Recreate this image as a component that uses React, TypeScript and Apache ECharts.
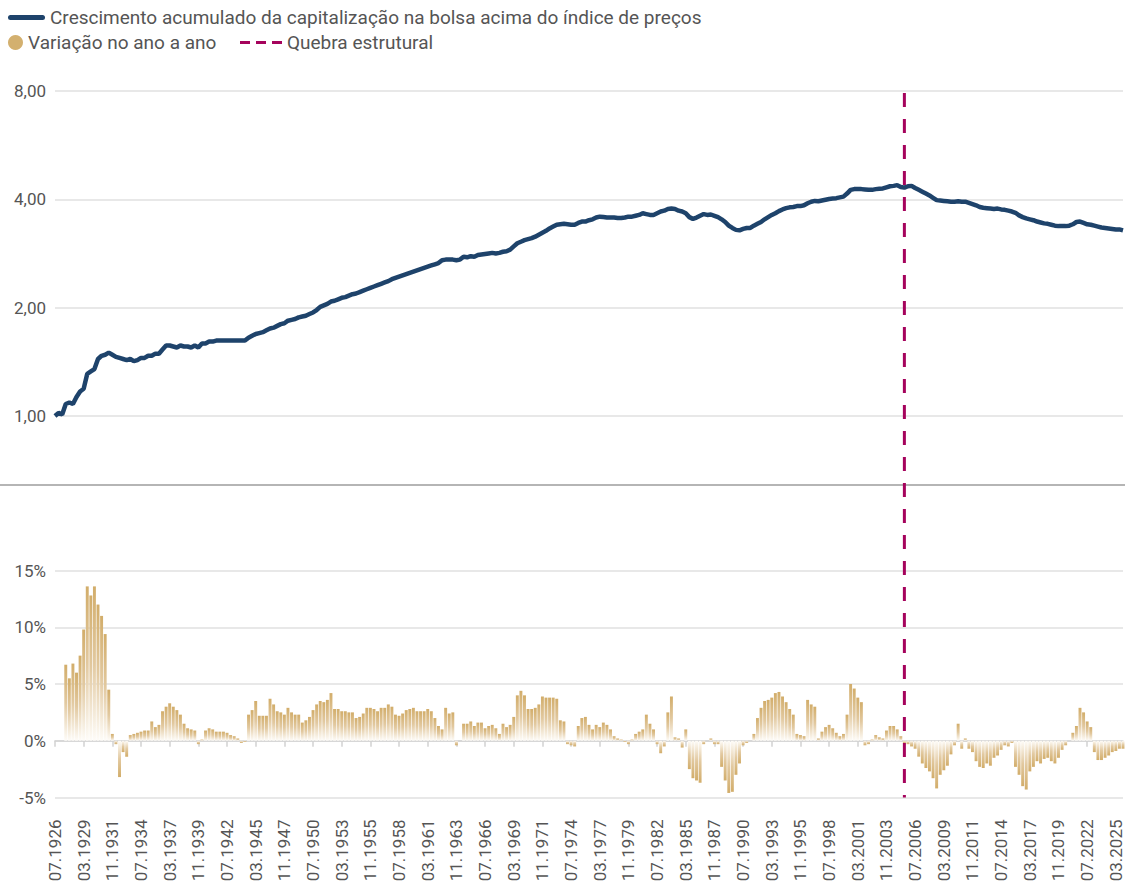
import React, { useEffect, useRef } from 'react';
import * as echarts from 'echarts';

// ---- data (4-month steps from 07.1926) ----
const startYear = 1926;
const startMonth = 7;
const stepMonths = 4;

const lineValues: number[] = [
  1.00, 1.02, 1.01, 1.08, 1.09, 1.08, 1.13, 1.17, 1.19, 1.31,
  1.33, 1.35, 1.44, 1.47, 1.48, 1.50, 1.48, 1.46, 1.45, 1.44,
  1.43, 1.44, 1.42, 1.43, 1.45, 1.45, 1.47, 1.47, 1.49, 1.49,
  1.53, 1.57, 1.57, 1.56, 1.55, 1.57, 1.56, 1.56, 1.55, 1.57,
  1.55, 1.59, 1.59, 1.61, 1.61, 1.62, 1.62, 1.62, 1.62, 1.62,
  1.62, 1.62, 1.62, 1.62, 1.65, 1.67, 1.69, 1.70, 1.71, 1.73,
  1.75, 1.76, 1.78, 1.80, 1.81, 1.84, 1.85, 1.86, 1.88, 1.89,
  1.90, 1.92, 1.94, 1.97, 2.01, 2.03, 2.05, 2.08, 2.09, 2.11,
  2.13, 2.14, 2.16, 2.18, 2.19, 2.21, 2.23, 2.25, 2.27, 2.29,
  2.31, 2.33, 2.35, 2.37, 2.40, 2.42, 2.44, 2.46, 2.48, 2.50,
  2.52, 2.54, 2.56, 2.58, 2.60, 2.62, 2.64, 2.66, 2.71, 2.72,
  2.72, 2.72, 2.71, 2.72, 2.77, 2.76, 2.78, 2.77, 2.80, 2.81,
  2.82, 2.83, 2.84, 2.83, 2.84, 2.86, 2.87, 2.90, 2.96, 3.02,
  3.05, 3.08, 3.10, 3.12, 3.15, 3.19, 3.23, 3.27, 3.32, 3.36,
  3.40, 3.41, 3.42, 3.41, 3.40, 3.40, 3.44, 3.47, 3.47, 3.50,
  3.52, 3.56, 3.58, 3.57, 3.56, 3.56, 3.56, 3.55, 3.55, 3.56,
  3.58, 3.58, 3.60, 3.62, 3.66, 3.64, 3.62, 3.62, 3.66, 3.70,
  3.72, 3.76, 3.77, 3.76, 3.72, 3.70, 3.66, 3.57, 3.53, 3.56,
  3.60, 3.64, 3.62, 3.63, 3.60, 3.57, 3.52, 3.46, 3.38, 3.33,
  3.29, 3.28, 3.31, 3.33, 3.33, 3.38, 3.42, 3.46, 3.52, 3.57,
  3.62, 3.66, 3.71, 3.75, 3.78, 3.80, 3.81, 3.83, 3.83, 3.85,
  3.90, 3.94, 3.96, 3.95, 3.97, 3.99, 4.01, 4.02, 4.03, 4.05,
  4.07, 4.15, 4.25, 4.27, 4.27, 4.27, 4.26, 4.25, 4.25, 4.27,
  4.28, 4.29, 4.32, 4.35, 4.36, 4.38, 4.33, 4.31, 4.35, 4.36,
  4.30, 4.25, 4.20, 4.15, 4.10, 4.04, 3.98, 3.97, 3.96, 3.95,
  3.94, 3.94, 3.95, 3.94, 3.94, 3.91, 3.88, 3.85, 3.81, 3.79,
  3.78, 3.77, 3.76, 3.77, 3.75, 3.74, 3.72, 3.70, 3.67, 3.61,
  3.57, 3.54, 3.52, 3.50, 3.47, 3.45, 3.43, 3.42, 3.40, 3.38,
  3.37, 3.37, 3.37, 3.38, 3.41, 3.46, 3.47, 3.44, 3.41, 3.40,
  3.38, 3.36, 3.34, 3.33, 3.32, 3.31, 3.30, 3.30, 3.28,
];

const yoyValues: (number | null)[] = [
  null, null, null, 6.7, 5.5, 6.8, 6.0, 7.5, 9.8, 13.6,
  12.8, 13.6, 12.0, 11.0, 9.4, 4.5, 0.6, -0.3, -3.2, -1.0,
  -1.4, 0.5, 0.6, 0.7, 0.8, 0.9, 0.9, 1.7, 1.2, 1.4,
  2.6, 3.0, 3.3, 3.0, 2.7, 2.3, 1.5, 1.1, 1.0, 0.9,
  -0.3, 0.1, 0.9, 1.1, 1.0, 0.8, 0.8, 0.8, 0.7, 0.5,
  0.4, 0.2, -0.2, -0.1, 2.3, 2.7, 3.5, 2.2, 2.2, 2.2,
  3.7, 3.2, 2.6, 2.5, 2.3, 2.9, 2.5, 2.3, 2.3, 1.6,
  1.8, 2.1, 2.7, 3.2, 3.5, 3.4, 3.6, 4.2, 2.8, 2.8,
  2.6, 2.6, 2.5, 2.5, 2.0, 2.1, 2.4, 2.9, 2.9, 2.8,
  2.6, 2.9, 2.9, 3.2, 3.0, 2.3, 2.2, 2.4, 2.7, 2.8,
  2.9, 2.6, 2.6, 2.6, 2.8, 2.6, 2.0, 1.3, 1.0, 2.9,
  2.4, 2.5, -0.4, 0.0, 1.5, 1.5, 1.7, 1.3, 1.6, 1.6,
  1.1, 1.3, 1.4, 1.1, 0.6, 1.5, 1.2, 1.4, 2.1, 4.0,
  4.4, 4.0, 2.8, 2.8, 2.9, 3.2, 3.9, 3.8, 3.8, 3.8,
  3.7, 1.8, 1.7, -0.3, -0.4, -0.5, 1.3, 2.0, 2.1, 1.4,
  1.0, 1.4, 1.2, 1.6, 1.4, 1.0, 0.4, 0.2, 0.1, -0.1,
  -0.3, 0.1, 0.6, 0.8, 1.0, 2.3, 1.5, 1.0, -0.3, -1.1,
  -0.5, 2.5, 3.9, 0.3, 0.2, -0.6, 1.0, -2.5, -3.3, -3.5,
  -3.7, -0.3, 0.0, 0.2, -0.3, -0.3, -2.3, -3.5, -4.6, -4.5,
  -3.0, -2.0, -0.4, -0.2, 0.0, 0.6, 2.0, 2.9, 3.5, 3.6,
  3.8, 4.2, 4.3, 3.9, 3.4, 2.8, 2.3, 0.6, 0.5, 0.4,
  3.6, 3.2, 3.0, 0.2, 0.8, 1.2, 1.4, 1.1, 0.7, 0.4,
  0.6, 2.3, 5.0, 4.6, 3.8, 3.4, -0.4, -0.3, 0.1, 0.5,
  0.3, 0.2, 0.9, 1.3, 1.3, 1.0, 0.4, -0.2, -0.3, -0.5,
  -0.7, -1.4, -2.0, -2.4, -2.7, -3.3, -4.2, -3.0, -2.6, -2.2,
  -1.2, -0.4, 1.5, -0.7, 0.2, -0.7, -1.0, -1.8, -2.3, -2.4,
  -2.0, -2.2, -1.5, -1.3, -0.8, -0.4, -0.5, -0.2, -2.3, -3.0,
  -4.0, -4.3, -2.7, -2.3, -1.8, -2.0, -1.6, -1.5, -1.8, -2.0,
  -1.5, -0.8, -0.4, 0.0, 0.7, 1.3, 2.9, 2.5, 1.7, 1.2,
  -1.0, -1.7, -1.7, -1.5, -1.3, -1.0, -0.9, -0.7, -0.7,
];

const categories: string[] = lineValues.map((_, i) => {
  const m = startMonth - 1 + i * stepMonths;
  const mm = (m % 12) + 1;
  const yy = startYear + Math.floor(m / 12);
  return `${String(mm).padStart(2, '0')}.${yy}`;
});

const breakLabel = '07.2005';
const topAxisMin = 1;
const topAxisMax = 8;
const bottomAxisMin = -5;
const bottomAxisMax = 15;
const bottomAxisStep = 5;

const nameLine = 'Crescimento acumulado da capitalização na bolsa acima do índice de preços';
const nameBar = 'Variação no ano a ano';
const nameBreak = 'Quebra estrutural';

const NAVY = '#1e436b';
const GOLD = '#d3b06f';
const MAGENTA = '#a5035c';
const TEXT = '#555555';
const GRIDC = '#e0e0e0';

const ICON_LINE = 'path://M2.5,0H34.5A2.5,2.5,0,0,1,34.5,5H2.5A2.5,2.5,0,0,1,2.5,0Z';
const ICON_DASH = 'path://M0,0H10V3H0Z M16,0H26V3H16Z M32,0H42V3H32Z';

export default function App() {
  const ref = useRef<HTMLDivElement | null>(null);

  useEffect(() => {
    if (!ref.current) return;
    const chart = echarts.init(ref.current, undefined, { renderer: 'svg' });

    const posGrad = new echarts.graphic.LinearGradient(0, 0, 0, 1, [
      { offset: 0, color: '#d2ad6a' },
      { offset: 0.5, color: '#e2c9a0' },
      { offset: 1, color: '#fefcf8' },
    ]);
    const negGrad = new echarts.graphic.LinearGradient(0, 0, 0, 1, [
      { offset: 0, color: '#fefcf8' },
      { offset: 0.5, color: '#e2c9a0' },
      { offset: 1, color: '#d2ad6a' },
    ]);

    const barData = yoyValues.map((v) =>
      v == null ? null : { value: v, itemStyle: { color: v >= 0 ? posGrad : negGrad } }
    );

    const labelStyle = { color: TEXT, fontSize: 17, fontFamily: 'Roboto' };
    const legendText = { color: TEXT, fontSize: 19, fontFamily: 'Roboto' };

    chart.setOption({
      animation: false,
      textStyle: { fontFamily: 'Roboto' },
      legend: [
        {
          data: [{ name: nameLine, icon: ICON_LINE, itemStyle: { color: NAVY, borderWidth: 0 } }],
          left: 8,
          top: 8,
          padding: 0,
          itemWidth: 37,
          itemHeight: 5,
          selectedMode: false,
          textStyle: legendText,
        },
        {
          data: [{ name: nameBar, icon: 'circle', itemStyle: { color: GOLD, borderWidth: 0 } }],
          left: 8,
          top: 33,
          padding: 0,
          itemWidth: 15,
          itemHeight: 15,
          selectedMode: false,
          textStyle: legendText,
        },
        {
          data: [{ name: nameBreak, icon: ICON_DASH, itemStyle: { color: MAGENTA, borderWidth: 0 } }],
          left: 240,
          top: 33,
          padding: 0,
          itemWidth: 42,
          itemHeight: 3,
          selectedMode: false,
          textStyle: legendText,
        },
      ],
      grid: [
        { left: 55, right: 13, top: 91, height: 325 },
        { left: 55, right: 13, top: 570.5, height: 227 },
      ],
      xAxis: [
        {
          gridIndex: 0,
          type: 'category',
          data: categories,
          boundaryGap: false,
          show: false,
        },
        {
          gridIndex: 1,
          type: 'category',
          data: categories,
          boundaryGap: false,
          position: 'bottom',
          axisLine: { show: false, onZero: false },
          axisTick: { show: false },
          axisLabel: { ...labelStyle, interval: 7, rotate: 90, margin: 22 },
          splitLine: { show: false },
        },
        {
          gridIndex: 1,
          type: 'category',
          data: categories,
          boundaryGap: false,
          position: 'bottom',
          axisLine: { show: true, onZero: true, lineStyle: { color: '#d2d2d2', width: 1.5 } },
          axisTick: { show: true, interval: 7, length: 6, lineStyle: { color: '#d2d2d2', width: 1.5 } },
          axisLabel: { show: false },
          splitLine: { show: false },
        },
      ],
      yAxis: [
        {
          gridIndex: 0,
          type: 'log',
          logBase: 2,
          min: topAxisMin,
          max: topAxisMax,
          axisLine: { show: false },
          axisTick: { show: false },
          axisLabel: {
            ...labelStyle,
            margin: 9,
            formatter: (v: number) => v.toFixed(2).replace('.', ','),
          },
          splitLine: { lineStyle: { color: GRIDC, width: 1.5 } },
        },
        {
          gridIndex: 1,
          type: 'value',
          min: bottomAxisMin,
          max: bottomAxisMax,
          interval: bottomAxisStep,
          axisLine: { show: false },
          axisTick: { show: false },
          axisLabel: { ...labelStyle, margin: 9, formatter: (v: number) => `${v}%` },
          splitLine: { lineStyle: { color: GRIDC, width: 1.5 } },
        },
      ],
      series: [
        {
          name: nameLine,
          type: 'line',
          xAxisIndex: 0,
          yAxisIndex: 0,
          data: lineValues,
          symbol: 'none',
          lineStyle: { color: NAVY, width: 4.5 },
          itemStyle: { color: NAVY },
          z: 3,
        },
        {
          name: nameBar,
          type: 'bar',
          xAxisIndex: 1,
          yAxisIndex: 1,
          data: barData,
          barCategoryGap: '18%',
          itemStyle: { color: GOLD },
        },
        {
          name: nameBreak,
          type: 'line',
          xAxisIndex: 0,
          yAxisIndex: 0,
          data: [],
          symbol: 'none',
          lineStyle: { color: MAGENTA, width: 3, type: [10, 6] },
          itemStyle: { color: MAGENTA },
        },
      ],
    });

    const bx = chart.convertToPixel({ xAxisIndex: 0 }, categories.indexOf(breakLabel)) as number;
    const yTop = chart.convertToPixel({ yAxisIndex: 0 }, topAxisMax) as number;
    const yBot = chart.convertToPixel({ yAxisIndex: 1 }, bottomAxisMin) as number;
    const xRight = chart.convertToPixel({ xAxisIndex: 0 }, categories.length - 1) as number;

    chart.setOption({
      graphic: [
        {
          type: 'line',
          shape: { x1: 0, y1: 485, x2: xRight + 2, y2: 485 },
          style: { stroke: '#9c9c9c', lineWidth: 1.5 },
          z: 5,
        },
        {
          type: 'line',
          shape: { x1: bx, y1: yTop + 2, x2: bx, y2: yBot },
          style: { stroke: MAGENTA, lineWidth: 3, lineDash: [14, 12] },
          z: 10,
        },
      ],
    });

    return () => chart.dispose();
  }, []);

  return (
    <div
      ref={ref}
      style={{ position: 'fixed', left: 0, top: 0, width: 1136, height: 886, background: '#fff' }}
    />
  );
}
